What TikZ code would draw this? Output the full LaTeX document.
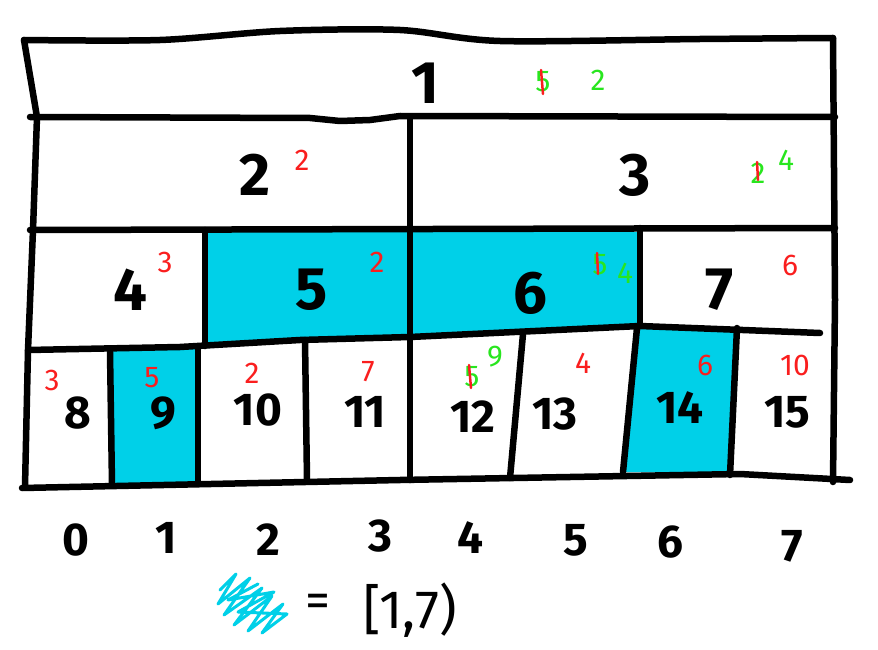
\documentclass[tikz,border=0pt]{standalone}
\usepackage{fontspec}
\setmainfont{Fira Sans}
\definecolor{cy}{RGB}{0,208,232}
\definecolor{gr}{RGB}{40,230,30}
\definecolor{rd}{RGB}{250,30,30}
\begin{document}
\begin{tikzpicture}[x=1pt,y=-1pt,
  ln/.style={line width=6.5pt,line cap=round,line join=round,black},
  big/.style={font=\fontsize{60}{62}\selectfont\bfseries, inner sep=0pt},
  mid/.style={font=\fontsize{46}{48}\selectfont\bfseries, inner sep=0pt},
  idx/.style={font=\fontsize{46}{48}\selectfont\bfseries, inner sep=0pt},
  rnote/.style={text=rd,font=\fontsize{30}{32}\selectfont, inner sep=0pt},
  gnote/.style={text=gr,font=\fontsize{30}{32}\selectfont, inner sep=0pt},
  strike/.style={draw=rd,line width=2.5pt,line cap=round},
  hl/.style={fill=cy,draw=none}]
\useasboundingbox[fill=white] (0,0) rectangle (878,650);
% highlighted cells
\fill[hl] (205,232) -- (410,232) -- (410,338) -- (300,341) -- (205,346) -- cycle;
\fill[hl] (410,232) -- (640,232) -- (640,326) -- (410,337) -- cycle;
\fill[hl] (112,350) -- (198,347) -- (198,482) -- (112,485) -- cycle;
\fill[hl] (637,328) -- (737,328) -- (730,473) -- (623,472) -- cycle;
% outline and rows
\draw[ln] plot[smooth] coordinates {(24,40) (160,40) (280,31) (400,30) (500,41) (700,39) (833,38)};
\draw[ln] (833,38) -- (835,300) -- (833,482);
\draw[ln] (24,40) -- (37,117) -- (33,230) -- (28,350) -- (25,487);
\draw[ln] (30,117) -- (310,118) -- (340,121) -- (370,120) -- (400,116) -- (835,117);
\draw[ln] (30,230) -- (835,228);
\draw[ln] (28,350) -- (180,347) -- (300,340) -- (410,337) -- (640,326) -- (820,333);
\draw[ln] (22,488) -- (400,480) -- (740,474) -- (850,480);
% vertical dividers
\draw[ln] (410,117) -- (410,480);
\draw[ln] (205,230) -- (205,346);
\draw[ln] (640,228) -- (640,326);
\draw[ln] (110,352) -- (112,485);
\draw[ln] (198,347) -- (198,482);
\draw[ln] (305,340) -- (307,480);
\draw[ln] (523,334) -- (510,478);
\draw[ln] (637,328) -- (623,472);
\draw[ln] (737,328) -- (730,475);
% level 1
\node[big] (n1) at (425,83) {1};
\node[gnote] (s1) at (543,82) {5};
\draw[strike] (541,70) -- (543,94);
\node[gnote] (v1) at (598,80) {2};
% level 2
\node[big] (n2) at (255,175) {2};
\node[rnote] (r2) at (302,160) {2};
\node[big] (n3) at (635,175) {3};
\node[gnote] (s3) at (758,173) {2};
\draw[strike] (757,162) -- (758,180);
\node[gnote] (v3) at (786,160) {4};
% level 3
\node[big] (n4) at (130,290) {4};
\node[rnote] (r4) at (165,262) {3};
\node[big] (n5) at (312,290) {5};
\node[rnote] (r5) at (377,262) {2};
\node[big] (n6) at (530,293) {6};
\node[gnote] (s6) at (600,265) {5};
\draw[strike] (597,253) -- (598,274);
\node[gnote] (v6) at (625,273) {4};
\node[big] (n7) at (720,290) {7};
\node[rnote] (r7) at (790,265) {6};
% level 4
\node[mid] (n8) at (78,413) {8};
\node[rnote] (r8) at (52,380) {3};
\node[mid] (n9) at (163,413) {9};
\node[rnote] (r9) at (152,378) {5};
\node[mid] (n10) at (258,410) {10};
\node[rnote] (r10) at (252,373) {2};
\node[mid] (n11) at (365,412) {11};
\node[rnote] (r11) at (368,372) {7};
\node[mid] (n12) at (473,417) {12};
\node[gnote] (s12) at (472,377) {5};
\draw[strike] (469,365) -- (471,388);
\node[gnote] (v12) at (495,357) {9};
\node[mid] (n13) at (555,414) {13};
\node[rnote] (r13) at (583,363) {4};
\node[mid] (n14) at (680,408) {14};
\node[rnote] (r14) at (705,365) {6};
\node[mid] (n15) at (787,412) {15};
\node[rnote] (r15) at (795,365) {10};
% indices
\node[idx] (i0) at (76,540) {0};
\node[idx] (i1) at (166,538) {1};
\node[idx] (i2) at (268,540) {2};
\node[idx] (i3) at (380,536) {3};
\node[idx] (i4) at (470,538) {4};
\node[idx] (i5) at (576,540) {5};
\node[idx] (i6) at (670,542) {6};
\node[idx] (i7) at (792,546) {7};
% legend
\draw[cy,line width=3pt,line cap=round,line join=round]
  (220,590) -- (236,574) -- (218,604) -- (250,578) -- (224,615) -- (262,588)
  -- (234,625) -- (272,596) -- (248,631) -- (283,604) -- (262,633) -- (287,614)
  -- (238,612) -- (274,592) -- (228,600) -- (258,584);
\node[font=\fontsize{50}{52}\selectfont, inner sep=0pt] (eq) at (318,606) {=};
\node[font=\fontsize{54}{56}\selectfont, inner sep=0pt] (leg) at (410,610) {[1,7)};
\end{tikzpicture}
\end{document}
